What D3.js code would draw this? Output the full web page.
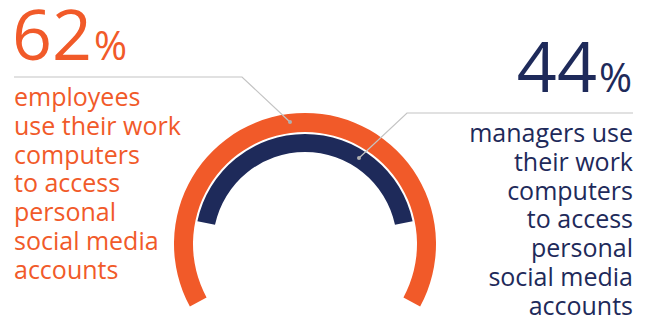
<!DOCTYPE html>
<html>
<head>
<meta charset="utf-8">
<script src="https://cdn.jsdelivr.net/npm/d3@7"></script>
<style>
  body { margin: 0; background: #fff; }
  svg text { font-family: "Open Sans", sans-serif; }
</style>
</head>
<body>
<svg width="650" height="321"></svg>
<script>
// ---------------- data ----------------
var groups = ["employees", "managers"];
var values = [62, 44];
var colors = ["#f15a29", "#1e2a5a"];
var captions = [
    ["employees", "use their work", "computers", "to access", "personal", "social media", "accounts"],
    ["managers use", "their work", "computers", "to access", "personal", "social media", "accounts"]
];

var svg = d3.select("svg");
var cx = 305, cy = 244;
var radii = [[112, 131], [92, 110]];

// value -> total sweep of the gauge (degrees)
var sweep = d3.scaleLinear().domain([0, 100]).range([-42, 408]);

var arc = d3.arc();
var gauge = svg.append("g").attr("transform", "translate(" + cx + "," + cy + ")");

gauge.selectAll("path")
    .data(values)
    .enter().append("path")
    .attr("d", (d, i) => {
        var half = sweep(d) / 2 * Math.PI / 180;
        return arc({innerRadius: radii[i][0], outerRadius: radii[i][1], startAngle: -half, endAngle: half});
    })
    .style("fill", (d, i) => colors[i]);

// ---------------- leader lines ----------------
var leaders = [
    [[14, 77], [242, 77], [290, 122]],
    [[633, 113], [407, 113], [359, 158]]
];
var line = d3.line();
svg.selectAll(".leader")
    .data(leaders)
    .enter().append("path")
    .attr("class", "leader")
    .attr("d", d => line(d))
    .style("fill", "none")
    .style("stroke", "#c4c4c4")
    .style("stroke-width", 1.2);
svg.selectAll(".dot")
    .data(leaders)
    .enter().append("circle")
    .attr("cx", d => d[2][0])
    .attr("cy", d => d[2][1])
    .attr("r", 2)
    .style("fill", "#b0b0b0");

// ---------------- big numbers ----------------
var big = [
    {x: 12, y: 60, anchor: "start"},
    {x: 632, y: 92, anchor: "end"}
];
values.forEach((v, i) => {
    var t = svg.append("text")
        .attr("x", big[i].x)
        .attr("y", big[i].y)
        .attr("text-anchor", big[i].anchor)
        .style("fill", colors[i]);
    t.append("tspan").style("font-size", "70px").text(v);
    t.append("tspan").style("font-size", "40px").attr("dx", 2).text("%");
});

// ---------------- captions ----------------
var capPos = [
    {x: 14, y: 106, anchor: "start"},
    {x: 633, y: 142, anchor: "end"}
];
captions.forEach((lines, i) => {
    svg.append("g").selectAll("text")
        .data(lines)
        .enter().append("text")
        .attr("x", capPos[i].x)
        .attr("y", (d, j) => capPos[i].y + j * 28.8)
        .attr("text-anchor", capPos[i].anchor)
        .style("font-size", "25px")
        .style("fill", colors[i])
        .text(d => d);
});
</script>
</body>
</html>
